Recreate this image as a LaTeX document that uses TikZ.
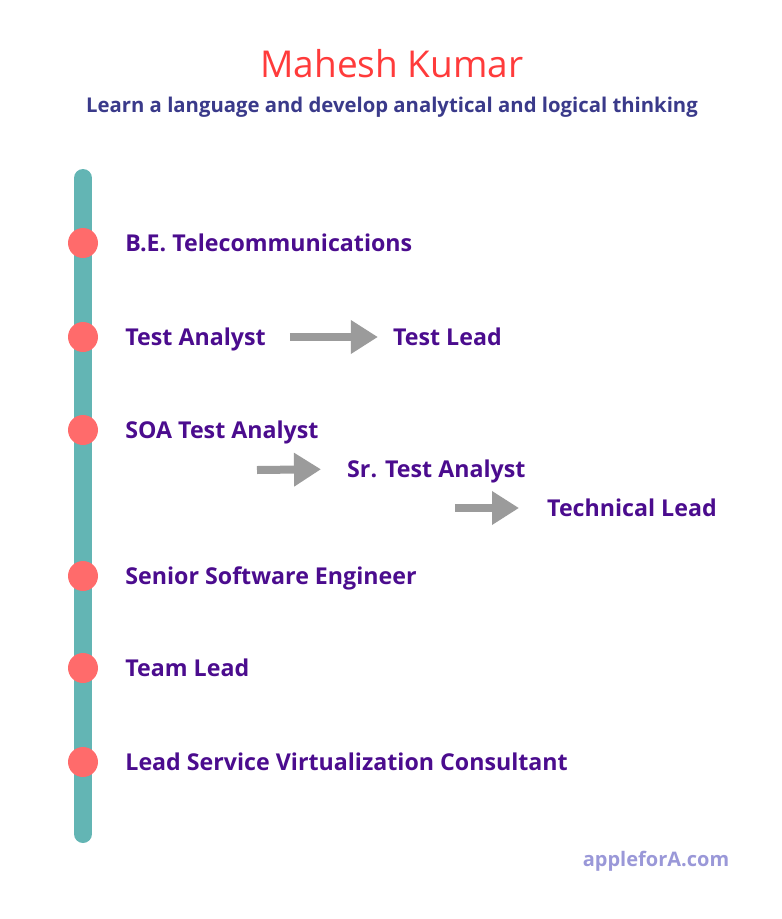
\documentclass[tikz,border=0pt]{standalone}
\usepackage{fontspec}
\setmainfont{Open Sans}
\usetikzlibrary{arrows.meta,positioning}
\definecolor{rail}{HTML}{63B5B4}
\definecolor{coral}{HTML}{FF6B6B}
\definecolor{titlered}{HTML}{FF3B3B}
\definecolor{subnavy}{HTML}{3A3A8A}
\definecolor{role}{HTML}{4B0C8E}
\definecolor{arrowgray}{HTML}{9B9B9B}
\definecolor{footer}{HTML}{9A98D8}
\tikzset{
  item/.style={inner sep=0pt,anchor=west,text height=17pt,text depth=0pt,font=\fontsize{23.2}{27}\selectfont\bfseries,text=role},
  dot/.style={circle,fill=coral,minimum size=30pt,inner sep=0pt},
  railline/.style={line width=18pt,line cap=round,draw=rail},
  arrow/.style={-{Triangle[length=27pt,width=32pt]},line width=8pt,draw=arrowgray}
}
\begin{document}
\begin{tikzpicture}[x=1pt,y=-1pt]
  \useasboundingbox (0,0) rectangle (782,919);
  % heading
  \node[anchor=base,text=titlered,font=\fontsize{37}{42}\selectfont] (title) at (392,77) {Mahesh Kumar};
  \node[anchor=base,text=subnavy,font=\fontsize{20.3}{24}\selectfont\bfseries] (sub) at (392,112) {Learn a language and develop analytical and logical thinking};
  % timeline
  \coordinate (top) at (83,178);
  \coordinate (bot) at (83,834);
  \draw[railline] (top) -- (bot);
  \node[dot] (d1) at (83,243) {};
  \node[dot] (d2) at (83,337) {};
  \node[dot] (d3) at (83,430) {};
  \node[dot] (d4) at (83,576) {};
  \node[dot] (d5) at (83,668) {};
  \node[dot] (d6) at (83,762) {};
  % roles
  \node[item,right=27pt of d1] (be) {B.E. Telecommunications};
  \node[item,right=27pt of d2] (ta) {Test Analyst};
  \node[item,right=127pt of ta] (tl) {Test Lead};
  \node[item,right=27pt of d3] (soa) {SOA Test Analyst};
  \node[item] (sr) at (347,469) {Sr. Test Analyst};
  \node[item] (tech) at (547,508) {Technical Lead};
  \node[item,right=27pt of d4] (sse) {Senior Software Engineer};
  \node[item,right=27pt of d5] (team) {Team Lead};
  \node[item,right=27pt of d6] (lsv) {Lead Service Virtualization Consultant};
  % promotions
  \coordinate (a2) at (257,470);
  \coordinate (a3) at (455,508);
  \draw[arrow,shorten <=24pt,shorten >=15pt] (ta) -- (tl);
  \draw[arrow,shorten >=26pt] (a2) -- (sr.west);
  \draw[arrow,shorten >=28pt] (a3) -- (tech.west);
  % footer
  \node[anchor=base,text=footer,font=\fontsize{20}{24}\selectfont\bfseries] (site) at (656,866) {appleforA.com};
\end{tikzpicture}
\end{document}
